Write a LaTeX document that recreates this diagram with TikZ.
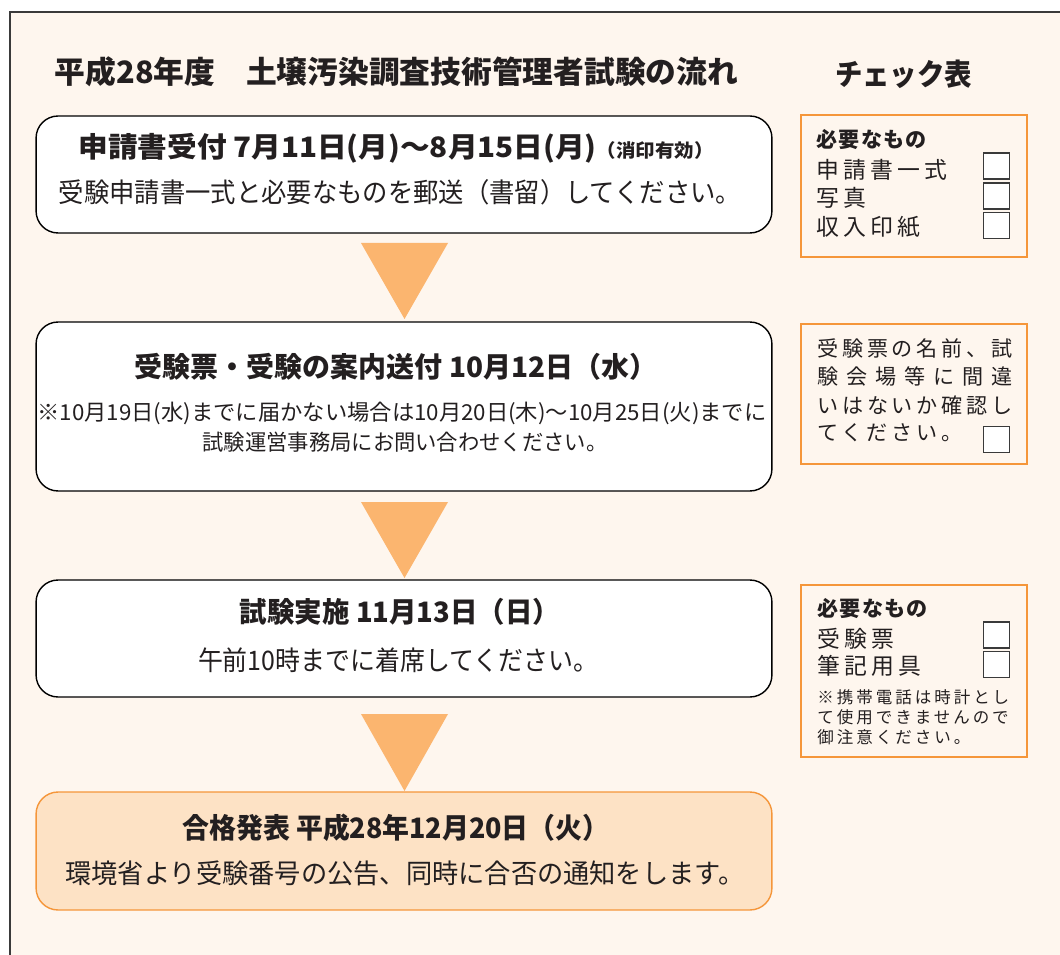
\documentclass[tikz,border=0pt]{standalone}
\usepackage{fontspec}
\setmainfont{Noto Sans CJK JP}
\usepackage{graphicx}
\newlength\pxu \setlength\pxu{0.02cm}
\newcommand{\fw}[2]{\resizebox{#1\pxu}{\height}{#2}}
\newcommand{\ls}[1]{\addfontfeature{LetterSpace=#1}}
\definecolor{bgc}{HTML}{FEF6EE}
\definecolor{tric}{HTML}{FBB56F}
\definecolor{orc}{HTML}{F5963A}
\definecolor{bfour}{HTML}{FDE2C5}
\definecolor{txt}{HTML}{231F20}
\definecolor{framec}{HTML}{3A3A3A}
\begin{document}
\begin{tikzpicture}[x=0.02cm,y=-0.02cm,
  stepbox/.style={draw=black, line width=0.8pt, rounded corners=0.44cm, fill=white, minimum width=14.72cm, inner sep=0},
  panel/.style={draw=orc, line width=1pt, fill=bgc, minimum width=4.52cm, inner sep=0},
  tick/.style={draw=framec, line width=0.8pt, fill=white, minimum size=0.52cm, inner sep=0},
  lbl/.style={inner sep=0, text=txt},
  head/.style={lbl, font=\bfseries\fontsize{16}{18}\selectfont},
  body/.style={lbl, font=\fontsize{15.3}{18}\selectfont},
  tri/.style={fill=tric, draw=none},
  chk/.style={lbl, anchor=west, font=\fontsize{13}{15}\selectfont\ls{18}},
  chkh/.style={lbl, anchor=west, font=\bfseries\fontsize{12}{14}\selectfont\ls{6}},
  chks/.style={lbl, anchor=west, font=\fontsize{12}{14}\selectfont},
  chkt/.style={lbl, anchor=west, font=\fontsize{9.4}{11}\selectfont\ls{18}}
]
\useasboundingbox (0,0) rectangle (1060,955);
\fill[bgc] (10,12) rectangle (1060,955);
\draw[framec, line width=0.7pt] (10,955) -- (10,12) -- (1060,12);

% title
\node[lbl, font=\bfseries\fontsize{17.5}{20}\selectfont] (title) at (396.5,72) {\fw{683}{平成28年度　土壌汚染調査技術管理者試験の流れ}};
\node[lbl, font=\bfseries\fontsize{17}{20}\selectfont] (chktitle) at (903.5,74) {\fw{137}{チェック表}};

% flow boxes
\node[stepbox, minimum height=2.34cm] (b1) at (404,174.5) {};
\node[stepbox, minimum height=3.38cm] (b2) at (404,406.5) {};
\node[stepbox, minimum height=2.34cm] (b3) at (404,638.5) {};
\node[stepbox, minimum height=2.36cm, draw=orc, fill=bfour] (b4) at (404,851) {};

% triangles
\fill[tri] (361,243) -- (448,243) -- (404.5,319) -- cycle;
\fill[tri] (361,502) -- (448,502) -- (404.5,578) -- cycle;
\fill[tri] (361,714) -- (448,714) -- (404.5,791) -- cycle;

% box texts
\node[head] (b1h) at (396,148) {\fw{635}{申請書受付 7月11日(月)〜8月15日(月){\fontsize{10.5}{12}\selectfont （消印有効）}}};
\node[body] (b1t) at (400,192) {\fw{682}{受験申請書一式と必要なものを郵送（書留）してください。}};

\node[head] (b2h) at (396,367) {\fw{522}{受験票・受験の案内送付 10月12日（水）}};
\node[body, font=\fontsize{12.5}{14}\selectfont] (b2t) at (402,413) {\fw{729}{※10月19日(水)までに届かない場合は10月20日(木)〜10月25日(火)までに}};
\node[body, font=\fontsize{12.5}{14}\selectfont] (b2u) at (405,442) {\fw{405}{試験運営事務局にお問い合わせください。}};

\node[head] (b3h) at (400,612) {\fw{320}{試験実施 11月13日（日）}};
\node[body] (b3t) at (398,660) {\fw{400}{午前10時までに着席してください。}};

\node[head] (b4h) at (396,828) {\fw{427}{合格発表 平成28年12月20日（火）}};
\node[body] (b4t) at (405,873) {\fw{679}{環境省より受験番号の公告、同時に合否の通知をします。}};

% check panels
\node[panel, minimum height=2.84cm] (p1) at (914,186) {};
\node[panel, minimum height=2.8cm] (p2) at (914,394) {};
\node[panel, minimum height=3.44cm] (p3) at (914,671) {};

\node[chkh] (p1h) at (816,140) {必要なもの};
\node[chk] (p1a) at (816,170) {申請書一式};
\node[chk] (p1b) at (816,198) {写真};
\node[chk] (p1c) at (816,227) {収入印紙};
\node[tick] (k1) at (996.5,166) {};
\node[tick] (k2) at (996.5,196) {};
\node[tick] (k3) at (996.5,225.5) {};

\node[chks, font=\fontsize{12}{14}\selectfont\ls{18}] (p2a) at (817,348) {受験票の名前、試};
\node[chks, font=\fontsize{12}{14}\selectfont\ls{38}] (p2b) at (817,376) {験会場等に間違};
\node[chks, font=\fontsize{12}{14}\selectfont\ls{18}] (p2c) at (817,405) {いはないか確認し};
\node[chks, font=\fontsize{12}{14}\selectfont\ls{18}] (p2d) at (817,433) {てください。};
\node[tick] (k4) at (996.5,439.5) {};

\node[chkh] (p3h) at (817,609) {必要なもの};
\node[chk] (p3a) at (817,639) {受験票};
\node[chk] (p3b) at (817,666) {筆記用具};
\node[tick] (k5) at (996.5,635) {};
\node[tick] (k6) at (996.5,664.5) {};
\node[chkt] (p3c) at (817,697) {※携帯電話は時計とし};
\node[chkt] (p3d) at (817,717) {て使用できませんので};
\node[chkt] (p3e) at (817,737) {御注意ください。};
\end{tikzpicture}
\end{document}
